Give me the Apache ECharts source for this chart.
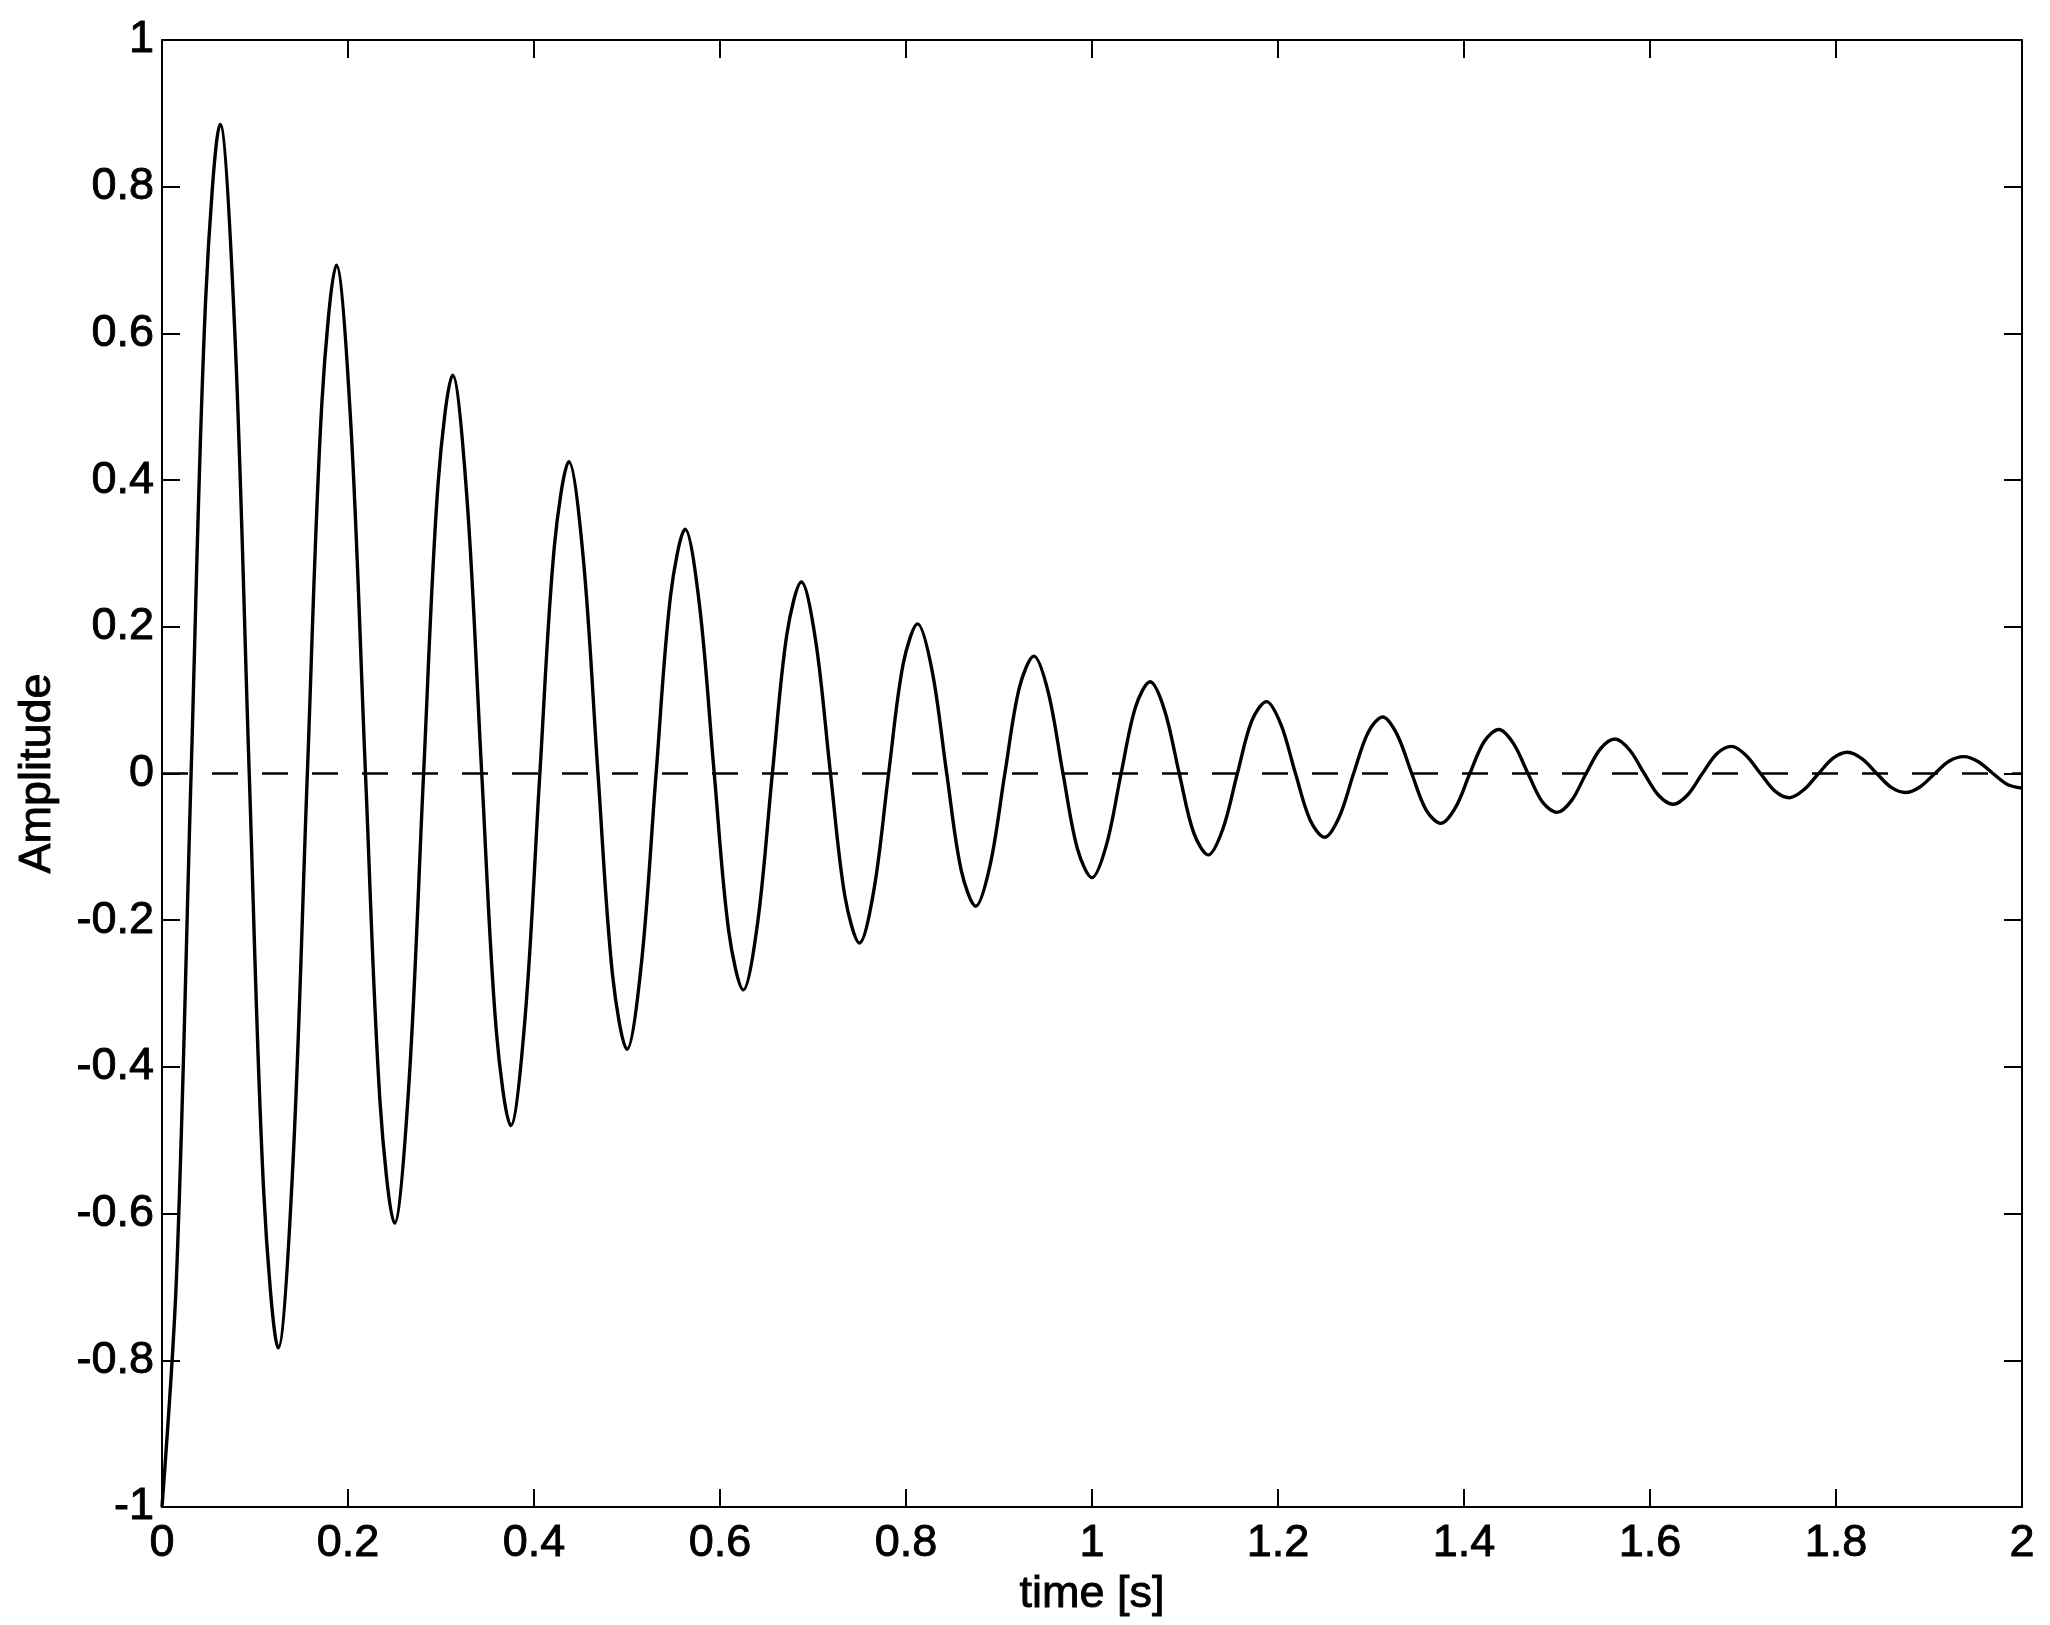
<!DOCTYPE html>
<html>
<head>
<meta charset="utf-8">
<script src="https://cdn.jsdelivr.net/npm/echarts@6/dist/echarts.min.js"></script>
<style>
html,body{margin:0;padding:0;background:#fff;}
#chart{width:2050px;height:1625px;}
</style>
</head>
<body>
<div id="chart"></div>
<script>
// time samples [s]
const times = [
0,0.0156,0.0313,0.0469,0.0625,0.0781,0.0938,0.1094,
0.125,0.1406,0.1563,0.1719,0.1875,0.2031,0.2188,0.2344,
0.25,0.2656,0.2813,0.2969,0.3125,0.3281,0.3438,0.3594,
0.375,0.3906,0.4063,0.4219,0.4375,0.4531,0.4688,0.4844,
0.5,0.5156,0.5313,0.5469,0.5625,0.5781,0.5938,0.6094,
0.625,0.6406,0.6563,0.6719,0.6875,0.7031,0.7188,0.7344,
0.75,0.7656,0.7813,0.7969,0.8125,0.8281,0.8438,0.8594,
0.875,0.8906,0.9063,0.9219,0.9375,0.9531,0.9688,0.9844,
1,1.0156,1.0313,1.0469,1.0625,1.0781,1.0938,1.1094,
1.125,1.1406,1.1563,1.1719,1.1875,1.2031,1.2188,1.2344,
1.25,1.2656,1.2813,1.2969,1.3125,1.3281,1.3438,1.3594,
1.375,1.3906,1.4063,1.4219,1.4375,1.4531,1.4688,1.4844,
1.5,1.5156,1.5313,1.5469,1.5625,1.5781,1.5938,1.6094,
1.625,1.6406,1.6563,1.6719,1.6875,1.7031,1.7188,1.7344,
1.75,1.7656,1.7813,1.7969,1.8125,1.8281,1.8438,1.8594,
1.875,1.8906,1.9063,1.9219,1.9375,1.9531,1.9688,1.9844,
2
];
// amplitude read at each time sample
const amplitude = [
-1,-0.686,0,0.645,0.885,0.607,0,-0.571,
-0.783,-0.537,0,0.505,0.693,0.475,0,-0.447,
-0.613,-0.421,0,0.396,0.543,0.372,0,-0.350,
-0.480,-0.330,0,0.310,0.425,0.292,0,-0.274,
-0.376,-0.258,0,0.243,0.333,0.228,0,-0.215,
-0.295,-0.202,0,0.190,0.261,0.179,0,-0.168,
-0.231,-0.158,0,0.149,0.204,0.140,0,-0.132,
-0.181,-0.124,0,0.117,0.160,0.110,0,-0.103,
-0.142,-0.097,0,0.091,0.125,0.086,0,-0.081,
-0.111,-0.076,0,0.072,0.098,0.067,0,-0.063,
-0.087,-0.060,0,0.056,0.077,0.053,0,-0.050,
-0.068,-0.047,0,0.044,0.060,0.041,0,-0.039,
-0.053,-0.037,0,0.034,0.047,0.032,0,-0.030,
-0.042,-0.029,0,0.027,0.037,0.025,0,-0.024,
-0.033,-0.022,0,0.021,0.029,0.020,0,-0.019,
-0.026,-0.018,0,0.017,0.023,0.016,0,-0.015,
-0.020
];
// dashed reference line
const zeroLineT = [0, 2];
const zeroLineV = [0, 0];

const FONT = 'Liberation Sans';
const lineCol = '#000';
const textStyle = {fontFamily:FONT, fontSize:45, color:'#000', textBorderColor:'#000', textBorderWidth:0.9};

const chart = echarts.init(document.getElementById('chart'), null, {renderer:'canvas'});

const axisCommon = {
  axisLine:{show:true, onZero:false, lineStyle:{color:lineCol, width:2}},
  axisTick:{show:true, inside:true, length:18, lineStyle:{color:lineCol, width:2}},
  splitLine:{show:false}
};
const fmt = (v)=>String(Math.round(v*10)/10);

const option = {
  backgroundColor:'#fff',
  animation:false,
  grid:{left:162, right:28, top:40, bottom:118, containLabel:false},
  xAxis:[
    Object.assign({
      type:'value', min:0, max:2, interval:0.2, position:'bottom',
      name:'time [s]', nameLocation:'middle', nameGap:58,
      nameTextStyle:textStyle,
      axisLabel:Object.assign({show:true, margin:14, formatter:fmt}, textStyle)
    }, axisCommon),
    Object.assign({
      type:'value', min:0, max:2, interval:0.2, position:'top',
      axisLabel:{show:false}
    }, axisCommon)
  ],
  yAxis:[
    Object.assign({
      type:'value', min:-1, max:1, interval:0.2, position:'left',
      name:'Amplitude', nameLocation:'middle', nameGap:102,
      nameTextStyle:textStyle,
      axisLabel:Object.assign({show:true, margin:8, formatter:fmt}, textStyle)
    }, axisCommon),
    Object.assign({
      type:'value', min:-1, max:1, interval:0.2, position:'right',
      axisLabel:{show:false}
    }, axisCommon)
  ],
  series:[
    {
      type:'line', xAxisIndex:0, yAxisIndex:0,
      data: zeroLineT.map((t,i)=>[t, zeroLineV[i]]),
      showSymbol:false, symbol:'none',
      lineStyle:{color:'#000', width:2.6, type:[26,24]},
      z:2
    },
    {
      type:'line', xAxisIndex:0, yAxisIndex:0,
      data: times.map((t,i)=>[t, amplitude[i]]),
      smooth:0.33, showSymbol:false, symbol:'none',
      lineStyle:{color:'#000', width:3.4},
      z:3
    }
  ]
};
chart.setOption(option);
</script>
</body>
</html>
